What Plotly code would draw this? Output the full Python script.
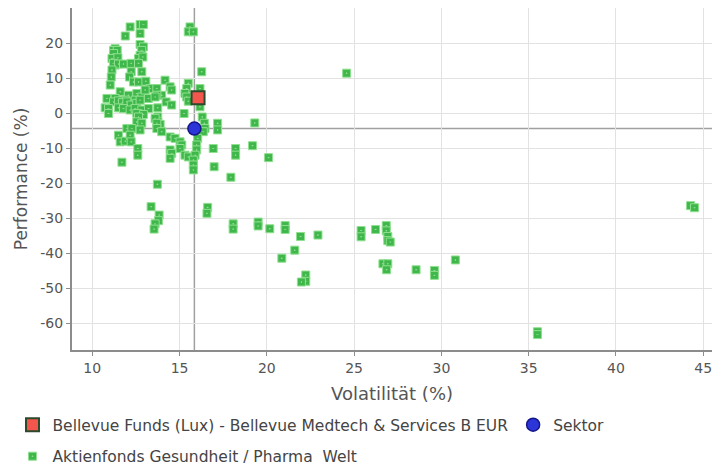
import plotly.graph_objects as go

# Peer group: Aktienfonds Gesundheit / Pharma Welt (volatility %, performance %)
peer_vol = [
    12.17, 12.74, 12.93, 11.89, 12.74, 15.6, 15.5, 15.79,
    11.31, 11.22, 11.43, 11.22, 12.74, 12.93, 12.83, 12.74, 12.65, 12.9,
    11.13, 11.47, 11.31, 11.22, 11.5, 11.79, 12.23, 12.65,
    11.13, 12.23, 12.84, 16.27, 11.09, 12.13,
    12.36, 12.65, 13.07, 14.17, 15.5, 11.03,
    11.6, 12.07, 12.55, 12.84, 13.31, 13.7, 13.03, 14.46, 14.55, 15.41, 15.31, 15.41,
    16.17, 16.07, 13.98, 13.7,
    10.84, 11.31, 11.89, 12.46, 13.22, 13.6, 11.22, 11.5, 11.73, 11.98, 12.23, 12.55,
    12.74, 14.23, 14.55, 15.5, 16.17,
    13.75, 10.74, 10.93, 10.93, 11.5, 11.79, 12.17, 12.46, 12.84, 13.22,
    12.55, 12.93, 12.65, 15.26, 16.3, 13.75, 13.75, 13.89,
    12.55, 12.84, 13.6, 13.7, 16.42, 16.46, 16.36, 17.18, 17.18, 19.31,
    11.98, 12.27, 12.74, 13.7, 13.98,
    11.5, 11.6, 11.89, 12.17, 12.23, 12.61, 12.61, 11.7,
    14.46, 14.74, 15.03, 15.13, 15.03, 14.46, 14.55, 14.46, 15.31, 15.5,
    16.04, 15.98, 15.98, 15.89, 15.79, 15.79, 15.79,
    16.93, 16.98, 18.21, 18.21, 19.18, 20.1, 17.94,
    13.73, 13.37, 13.83, 13.79, 13.6, 13.54, 16.61, 16.57,
    18.07, 18.07, 19.5, 19.5, 20.17, 21.05, 21.05, 21.93, 22.93,
    21.6, 20.86, 22.23, 22.23, 21.98,
    25.4, 25.4, 26.23, 26.84, 26.84, 26.93, 26.93, 27.07,
    26.65, 26.93, 26.86, 28.55, 29.6, 29.6, 30.8,
    44.27, 44.5, 35.5, 35.5, 24.57,
]
peer_perf = [
    24.6, 25.3, 25.3, 22.0, 22.7, 24.6, 23.2, 23.2,
    18.4, 17.9, 17.9, 17.0, 19.6, 18.9, 17.9, 16.5, 15.6, 16.0,
    15.6, 15.8, 13.7, 14.2, 14.0, 14.0, 14.2, 14.2,
    12.3, 11.8, 11.8, 11.8, 10.3, 10.3,
    8.9, 8.9, 9.1, 9.4, 8.5, 8.0,
    6.1, 5.1, 5.6, 4.6, 7.0, 7.0, 6.6, 7.5, 6.6, 7.0, 5.6, 4.6,
    7.0, 5.1, 5.1, 5.1,
    4.2, 4.2, 3.7, 3.7, 4.2, 4.6, 3.2, 3.5, 3.0, 3.2, 2.3, 2.8,
    3.7, 3.2, 2.3, 3.4, 1.8,
    1.5, 1.5, 1.3, -0.1, 1.5, 1.3, 0.9, 1.3, 0.9, 1.3,
    -0.1, -0.4, -1.1, -0.1, -1.1, -1.1, -2.3, -3.2,
    -2.5, -2.9, -1.5, -2.9, -2.9, -4.4, -5.3, -2.9, -4.8, -2.8,
    -4.4, -4.4, -4.8, -4.4, -5.3,
    -6.3, -8.2, -8.0, -6.3, -8.2, -10.1, -12.0, -14.0,
    -6.8, -7.2, -8.2, -9.1, -10.1, -10.5, -11.5, -12.9, -12.0, -12.5,
    -7.2, -9.1, -10.5, -12.0, -13.4, -14.8, -16.2,
    -10.1, -15.3, -10.1, -12.0, -9.3, -12.7, -18.3,
    -20.3, -26.7, -29.1, -30.7, -31.6, -33.1, -26.9, -28.6,
    -31.6, -33.1, -31.1, -32.2, -33.0, -32.1, -33.2, -35.2, -34.8,
    -39.1, -41.4, -46.2, -48.0, -48.2,
    -33.5, -35.3, -33.2, -32.1, -33.6, -35.2, -36.4, -36.8,
    -43.0, -43.0, -44.7, -44.7, -44.9, -46.3, -41.9,
    -26.4, -27.0, -62.4, -63.2, 11.4,
]

fund_name = "Bellevue Funds (Lux) - Bellevue Medtech & Services B EUR"
fund_vol = [16.06]
fund_perf = [4.4]

sector_name = "Sektor"
sector_vol = [15.85]
sector_perf = [-4.4]

peer_name = "Aktienfonds Gesundheit / Pharma  Welt"

x_ticks = [10, 15, 20, 25, 30, 35, 40, 45]
y_ticks = [20, 10, 0, -10, -20, -30, -40, -50, -60]

fig = go.Figure()

fig.add_trace(go.Scatter(
    x=peer_vol, y=peer_perf, mode="markers", name=peer_name,
    marker=dict(symbol="square-dot", size=8, color="#3fb74a",
                line=dict(color="#8fe08f", width=1)),
    legend="legend2", hoverinfo="x+y",
))
fig.add_trace(go.Scatter(
    x=sector_vol, y=sector_perf, mode="markers", name=sector_name,
    marker=dict(symbol="circle", size=13, color="#2b35d8",
                line=dict(color="#16168a", width=1.5)),
    legendrank=2,
))
fig.add_trace(go.Scatter(
    x=fund_vol, y=fund_perf, mode="markers", name=fund_name,
    marker=dict(symbol="square", size=13, color="#f2564d",
                line=dict(color="#2c4a2c", width=2)),
    legendrank=1,
))

# Reference lines at the sector values
fig.add_shape(type="line", xref="x", yref="paper", x0=sector_vol[0], x1=sector_vol[0],
              y0=0, y1=1, line=dict(color="#a0a0a0", width=1.5), layer="below")
fig.add_shape(type="line", xref="paper", yref="y", x0=0, x1=1,
              y0=sector_perf[0], y1=sector_perf[0],
              line=dict(color="#a0a0a0", width=1.5), layer="below")

font_family = "DejaVu Sans, Liberation Sans, Arial, sans-serif"

fig.update_layout(
    width=722, height=465,
    margin=dict(l=71.5, r=10, t=8, b=114.5, autoexpand=False),
    paper_bgcolor="white", plot_bgcolor="white",
    font=dict(family=font_family, color="#555555", size=13),
    showlegend=True,
    legend=dict(orientation="h", x=-0.093, xanchor="left", y=-0.170, yanchor="top",
                font=dict(size=15.5, color="#444444"), bgcolor="rgba(0,0,0,0)",
                traceorder="normal"),
    legend2=dict(orientation="h", x=-0.093, xanchor="left", y=-0.262, yanchor="top",
                 font=dict(size=15.5, color="#444444"), bgcolor="rgba(0,0,0,0)"),
    xaxis=dict(
        range=[8.84, 45.5], tickvals=x_ticks, ticktext=[str(v) for v in x_ticks],
        showgrid=True, gridcolor="#e2e2e2", gridwidth=1,
        zeroline=False, showline=True, linecolor="#8c8c8c", linewidth=2,
        ticks="outside", ticklen=4, tickcolor="#8c8c8c",
        tickfont=dict(size=14, color="#555555"),
        title=dict(text="Volatilität (%)", font=dict(size=18, color="#555555"), standoff=13),
    ),
    yaxis=dict(
        range=[-67.6, 30], tickvals=y_ticks, ticktext=[str(v) for v in y_ticks],
        showgrid=True, gridcolor="#e2e2e2", gridwidth=1,
        zeroline=False, showline=True, linecolor="#8c8c8c", linewidth=2,
        ticks="outside", ticklen=4, tickcolor="#8c8c8c",
        tickfont=dict(size=14, color="#555555"),
        title=dict(text="Performance (%)", font=dict(size=17, color="#555555"), standoff=8),
    ),
)

fig.write_html("out.html", config={"displayModeBar": False},
               post_script="document.body.style.margin='0';")
